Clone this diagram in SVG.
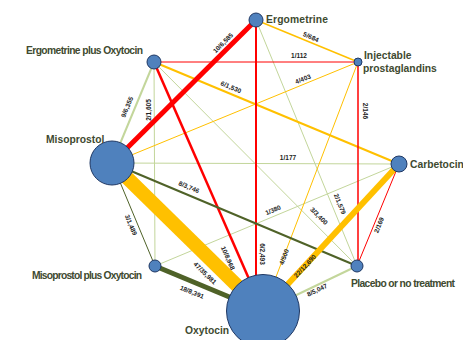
<svg xmlns="http://www.w3.org/2000/svg" width="463" height="340" viewBox="0 0 463 340">
<style>
.e{fill:none;stroke-linecap:butt}
.red{stroke:#ff0000}
.org{stroke:#ffc000}
.lg{stroke:#c3d69b}
.dg{stroke:#4f6228}
.n{fill:#4f81bd;stroke:#1f3864;stroke-width:1}
.nl{font-family:"Liberation Sans",Arial,sans-serif;font-weight:bold;font-size:10.3px;fill:#404a30}
.el{font-family:"Liberation Sans",Arial,sans-serif;font-weight:bold;font-size:6.5px;fill:#222;text-anchor:middle}
</style>
<rect width="463" height="340" fill="#fff"/>
<g id="connectors">
<line class="e lg" x1="154" y1="62" x2="357" y2="266" stroke-width="1"/>
<line class="e lg" x1="256" y1="20" x2="357" y2="266" stroke-width="1"/>
<line class="e lg" x1="154" y1="62" x2="155" y2="266" stroke-width="1"/>
<line class="e lg" x1="399" y1="164" x2="112" y2="163" stroke-width="1"/>
<line class="e lg" x1="399" y1="164" x2="155" y2="266" stroke-width="1"/>
<line class="e lg" x1="154" y1="62" x2="112" y2="163" stroke-width="2"/>
<line class="e lg" x1="357" y1="266" x2="263" y2="311" stroke-width="2"/>
<line class="e org" x1="256" y1="20" x2="358" y2="62" stroke-width="1.5"/>
<line class="e org" x1="154" y1="62" x2="399" y2="164" stroke-width="2"/>
<line class="e org" x1="358" y1="62" x2="112" y2="163" stroke-width="1"/>
<line class="e org" x1="358" y1="62" x2="263" y2="311" stroke-width="1"/>
<line class="e red" x1="154" y1="62" x2="358" y2="62" stroke-width="1"/>
<line class="e red" x1="256" y1="20" x2="256" y2="311" stroke-width="2"/>
<line class="e red" x1="358" y1="62" x2="358" y2="266" stroke-width="1.5"/>
<line class="e red" x1="399" y1="164" x2="357" y2="266" stroke-width="1"/>
<line class="e red" x1="154" y1="62" x2="263" y2="311" stroke-width="2.5"/>
<line class="e dg" x1="112" y1="163" x2="357" y2="266" stroke-width="2"/>
<line class="e dg" x1="112" y1="163" x2="155" y2="266" stroke-width="1"/>
<line class="e dg" x1="155" y1="266" x2="263" y2="311" stroke-width="5"/>
<line class="e org" x1="399" y1="164" x2="263" y2="311" stroke-width="6"/>
<line class="e org" x1="112" y1="163" x2="263" y2="311" stroke-width="14"/>
<line class="e red" x1="256" y1="20" x2="112" y2="163" stroke-width="5"/>
</g>
<g id="edge-labels">
<text class="el" transform="translate(223,43) rotate(-45)" dy="2.3">10/6,585</text>
<text class="el" transform="translate(311,37) rotate(23.5)" dy="2.3">5/684</text>
<text class="el" transform="translate(299,56)" dy="2.3">1/112</text>
<text class="el" transform="translate(303,79) rotate(-22)" dy="2.3">4/403</text>
<text class="el" transform="translate(231,87) rotate(22.6)" dy="2.3">6/1,530</text>
<text class="el" transform="translate(127,107) rotate(-67)" dy="2.3">9/6,355</text>
<text class="el" transform="translate(149,110) rotate(-90)" dy="2.3">2/1,605</text>
<text class="el" transform="translate(288,158)" dy="2.3">1/177</text>
<text class="el" transform="translate(189,187) rotate(23)" dy="2.3">8/3,746</text>
<text class="el" transform="translate(131,225) rotate(67.5)" dy="2.3">3/1,489</text>
<text class="el" transform="translate(273,210) rotate(-22.7)" dy="2.3">1/380</text>
<text class="el" transform="translate(319,216) rotate(45)" dy="2.3">3/3,400</text>
<text class="el" transform="translate(340,204) rotate(67.7)" dy="2.3">2/1,579</text>
<text class="el" transform="translate(365,111) rotate(90)" dy="2.3">2/146</text>
<text class="el" transform="translate(379,225) rotate(-67.6)" dy="2.3">2/169</text>
<text class="el" transform="translate(305,266) rotate(-47)" dy="2.3">22/12,690</text>
<text class="el" transform="translate(284,257) rotate(-69)" dy="2.3">4/500</text>
<text class="el" transform="translate(262,254) rotate(90)" dy="2.3">6/2,493</text>
<text class="el" transform="translate(228,258) rotate(66)" dy="2.3">10/8,968</text>
<text class="el" transform="translate(205,273) rotate(44)" dy="2.3">47/35,981</text>
<text class="el" transform="translate(192,292) rotate(22)" dy="2.3">18/8,391</text>
<text class="el" transform="translate(317,290) rotate(-25)" dy="2.3">8/5,047</text>
</g>
<g id="node-ergometrine"><circle class="n" cx="256" cy="20" r="7"/><text class="nl" x="266" y="23" textLength="62">Ergometrine</text></g>
<g id="node-injectable"><circle class="n" cx="358" cy="62" r="4"/><text class="nl" x="364" y="59">Injectable</text><text class="nl" x="363" y="72">prostaglandins</text></g>
<g id="node-carbetocin"><circle class="n" cx="399" cy="164" r="8"/><text class="nl" x="410" y="168">Carbetocin</text></g>
<g id="node-placebo"><circle class="n" cx="357" cy="266" r="6"/><text class="nl" x="351" y="287" textLength="104">Placebo or no treatment</text></g>
<g id="node-oxytocin"><circle class="n" cx="263" cy="311" r="36.5"/><text class="nl" x="185" y="334">Oxytocin</text></g>
<g id="node-miso-oxy"><circle class="n" cx="155" cy="266" r="6"/><text class="nl" x="32" y="279" textLength="110">Misoprostol plus Oxytocin</text></g>
<g id="node-misoprostol"><circle class="n" cx="112" cy="163" r="22"/><text class="nl" x="46" y="143">Misoprostol</text></g>
<g id="node-ergo-oxy"><circle class="n" cx="154" cy="62" r="7"/><text class="nl" x="26" y="54" textLength="117">Ergometrine plus Oxytocin</text></g>
</svg>
